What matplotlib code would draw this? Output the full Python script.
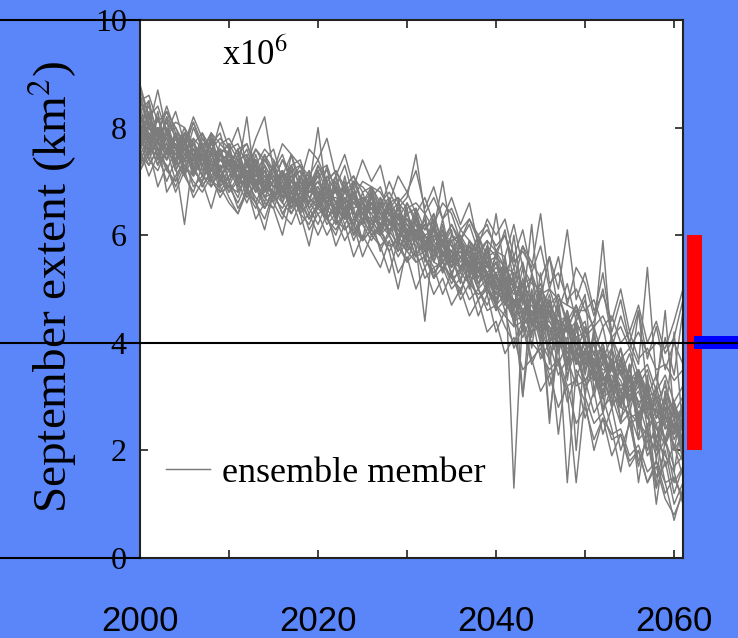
import numpy as np
import matplotlib
matplotlib.use('agg')
import matplotlib.pyplot as plt
from matplotlib.patches import Rectangle

plt.rcParams['mathtext.fontset'] = 'stix'

# September sea ice extent, 10^6 km^2, one list per ensemble member, 2000-2061
years = np.arange(2000, 2062)

m01 = [8.4,7.8,8.2,7.5,7.9,7.1,7.8,7.6,7.0,7.5, 7.7,7.0,7.4,6.8,7.5,7.2,6.6,7.3,6.9,7.2,
       6.5,7.1,6.8,6.3,7.0,6.6,6.1,6.7,6.4,5.9, 6.6,6.2,5.7,6.4,5.8,6.1,5.3,5.9,5.6,5.0,
       5.7,5.1,4.6,5.4,4.3,5.0,4.1,4.8,3.6,4.4, 3.4,4.2,3.0,3.9,2.8,3.6,2.5,3.3,2.2,3.0, 2.0,2.9]
m02 = [7.6,8.1,7.4,7.9,7.3,7.7,7.2,7.0,7.6,6.9, 7.1,7.5,6.8,7.3,6.7,6.8,7.2,6.5,7.0,6.6,
       7.2,6.4,6.9,6.5,6.2,6.8,6.3,6.0,6.6,6.1, 5.8,6.4,5.9,5.6,6.2,5.4,5.9,5.2,5.7,5.5,
       4.9,5.6,4.7,5.1,4.4,4.2,4.8,3.9,4.5,3.6, 4.1,3.3,3.8,3.0,3.6,2.7,3.4,2.4,3.1,2.1, 2.8,1.9]
m03 = [8.1,7.6,7.9,8.0,7.4,7.8,7.3,7.7,7.2,7.6, 7.0,7.4,7.5,6.9,7.2,6.7,7.1,7.2,6.6,6.8,
       7.0,6.6,6.5,7.0,6.3,6.7,6.6,6.2,6.5,6.0, 6.3,5.9,6.3,5.7,6.0,5.9,5.4,5.8,5.2,5.6,
       5.1,5.4,1.3,4.6,4.9,4.1,4.6,4.0,4.3,3.7, 4.0,3.4,3.9,3.1,3.5,2.9,3.3,2.6,3.0,2.4, 2.7,2.2]
m04 = [7.8,8.3,7.6,7.4,7.9,7.2,7.6,7.1,7.8,7.0, 7.5,6.9,7.3,7.3,6.8,7.3,6.7,7.1,7.2,6.5,
       6.7,7.0,6.4,6.8,6.9,6.2,6.7,6.5,6.0,6.6, 6.0,6.5,5.8,6.2,5.6,6.0,5.8,5.3,5.9,5.1,
       5.5,4.8,5.3,3.0,5.0,4.4,4.9,4.1,4.6,3.8, 4.3,3.5,4.0,3.2,3.7,2.9,3.5,2.7,3.2,2.5, 2.9,2.3]
m05 = [8.8,8.2,8.4,7.9,8.1,8.0,7.7,7.9,7.6,7.8, 7.6,7.7,7.3,7.6,7.4,7.2,7.5,7.0,7.3,7.1,
       7.4,7.0,7.2,6.9,7.1,6.8,6.9,6.6,6.8,6.5, 6.7,7.5,6.4,6.7,6.3,6.5,6.1,6.3,5.9,6.1,
       5.8,6.0,5.5,5.7,5.4,6.4,5.1,5.3,4.8,5.0, 4.6,4.8,4.3,4.5,4.0,4.2,3.7,3.9,3.5,3.6, 3.3,3.5]
m06 = [7.5,7.3,7.6,7.2,7.0,7.4,6.9,7.1,7.0,6.8, 6.9,6.6,7.0,6.7,6.5,6.8,6.6,6.4,6.7,6.3,
       6.5,6.3,6.1,6.4,6.2,5.9,6.1,6.0,5.7,5.0, 5.8,5.6,5.7,5.4,5.5,5.2,5.3,5.1,4.9,5.0,
       4.7,4.5,4.3,4.4,4.0,3.8,3.5,3.7,3.2,3.3, 2.9,2.0,2.6,2.3,2.4,1.9,2.1,1.6,1.8,1.4, 1.5,1.1]
m07 = [8.2,7.7,8.0,7.8,7.5,7.9,7.6,7.3,7.7,7.4, 7.2,7.6,7.1,7.4,6.9,7.3,6.9,7.1,6.8,7.2,
       6.8,6.9,6.6,6.6,6.7,6.4,6.8,6.3,6.5,6.2, 6.4,6.0,6.2,5.9,6.1,5.6,5.9,5.7,5.3,5.8,
       5.2,5.5,5.0,4.5,4.9,4.3,4.7,3.9,4.4,4.1, 3.7,4.0,3.4,3.7,3.1,3.5,2.8,3.2,2.6,3.0, 2.4,2.8]
m08 = [7.9,8.0,7.7,7.8,7.7,7.6,7.4,7.5,7.3,7.5, 7.4,7.1,7.3,7.0,7.2,6.9,7.1,6.8,7.0,6.8,
       7.0,6.7,6.8,6.6,6.7,6.5,6.6,6.4,6.5,6.3, 6.3,6.2,6.0,6.1,5.9,5.9,6.0,5.7,5.8,5.5,
       5.6,5.4,5.3,5.1,5.2,4.9,5.0,4.8,4.7,4.6, 4.6,4.3,4.5,4.1,4.3,3.9,4.2,3.8,4.0,3.9, 4.4,5.0]
m09 = [7.4,7.7,7.3,7.6,7.0,7.4,7.3,6.9,7.2,7.1, 6.8,7.1,6.9,6.6,7.0,6.7,6.5,6.8,6.4,5.8,
       6.6,6.3,6.5,6.1,6.3,6.2,5.9,6.2,6.0,5.7, 6.0,5.6,5.9,5.5,5.4,5.6,5.2,5.4,5.0,5.2,
       4.8,5.0,4.5,4.6,4.2,4.3,3.8,4.0,1.4,3.5, 3.2,3.4,2.8,3.0,2.5,2.7,2.2,2.4,1.9,2.2, 1.7,1.9]
m10 = [8.3,8.5,7.8,8.1,7.6,8.0,7.4,7.1,7.9,7.2, 7.6,7.2,8.2,6.9,7.4,7.1,6.7,7.5,6.8,6.6,
       7.3,6.9,6.3,7.1,6.4,6.2,6.9,6.0,6.6,6.7, 5.9,6.4,5.5,6.2,5.3,6.0,5.8,5.0,5.6,5.9,
       4.7,5.4,5.1,4.2,5.3,4.0,4.7,4.4,3.5,4.5, 4.9,3.1,3.9,2.8,3.7,3.3,2.4,3.2,2.0,2.9, 2.6,1.8]
m11 = [7.9,7.4,7.8,7.2,7.6,7.3,7.1,7.5,6.9,7.2, 7.0,6.7,7.2,6.9,6.5,6.8,6.7,6.9,6.4,6.6,
       6.4,6.5,6.2,6.4,6.0,6.3,6.0,6.1,5.8,5.9, 5.7,5.5,5.6,5.2,5.4,5.0,5.2,4.8,5.0,4.6,
       4.7,4.3,4.0,4.4,3.7,3.9,3.4,3.6,3.1,1.4, 3.0,2.5,2.7,2.2,2.3,1.8,2.0,1.4,1.7,1.1, 0.8,1.2]
m12 = [8.5,8.0,7.7,8.2,7.8,7.4,8.0,7.6,7.2,7.7, 7.5,7.4,6.9,7.5,7.0,6.8,7.2,6.6,7.1,6.9,
       7.1,6.6,7.0,6.3,6.8,6.4,6.7,6.1,6.6,5.9, 6.4,6.0,5.8,6.3,5.5,5.7,6.0,5.4,5.8,5.2,
       5.6,5.0,5.4,4.8,4.5,4.9,4.4,4.1,4.6,3.9, 3.5,4.1,3.8,3.2,3.7,3.0,3.4,2.8,1.3,3.1, 2.7,2.5]
m13 = [7.3,7.6,7.5,7.0,7.4,7.1,6.8,7.3,7.0,6.9, 6.6,6.4,6.8,6.5,6.9,6.6,6.3,6.8,6.4,6.2,
       6.6,6.3,6.0,6.5,6.1,5.9,6.3,5.7,6.1,5.8, 5.5,6.0,5.6,5.2,5.7,5.3,4.9,5.5,5.0,4.7,
       5.1,4.6,4.8,4.3,4.6,4.0,3.7,4.2,3.4,3.9, 3.1,3.6,2.7,3.2,2.6,2.9,1.4,2.5,1.0,2.2, 1.4,1.7]
m14 = [8.1,8.4,7.9,8.3,7.8,7.6,8.1,7.7,7.7,7.9, 7.3,7.6,7.7,7.2,7.4,7.6,7.0,7.3,7.4,6.9,
       7.2,7.3,6.8,6.9,7.1,6.6,6.9,6.8,6.5,6.7, 6.5,6.6,6.4,6.1,7.0,6.0,5.9,6.2,5.7,5.9,
       5.7,5.6,6.2,5.4,5.1,5.0,4.7,4.9,4.4,4.7, 4.2,4.4,5.0,4.1,3.7,3.9,3.4,3.6,3.1,3.4, 2.9,3.2]
m15 = [7.7,7.3,7.6,7.7,7.2,7.5,7.2,7.0,7.4,6.8, 7.1,7.2,6.7,7.0,6.5,6.9,7.0,6.5,6.8,6.4,
       6.7,6.3,6.6,6.2,6.5,6.6,6.0,6.2,6.3,5.7, 6.1,5.6,6.0,5.8,5.3,5.7,5.6,5.1,5.5,5.3,
       4.8,5.2,4.5,4.9,4.4,4.6,4.1,3.9,4.3,2.0, 3.9,3.4,3.0,3.6,2.9,3.2,2.6,2.9,2.4,2.1, 2.6,1.9]
m16 = [8.0,7.8,7.3,7.9,7.6,7.7,7.2,7.6,7.1,7.4, 7.3,7.0,7.2,6.8,7.2,6.7,7.1,6.8,6.5,7.0,
       6.8,6.4,6.9,6.6,6.2,6.6,6.4,6.1,6.5,6.2, 5.8,6.3,6.0,5.7,5.9,5.4,5.8,5.3,5.6,5.0,
       4.8,5.3,4.6,3.0,4.4,4.7,2.6,4.0,4.3,3.6, 4.0,3.5,3.1,3.6,2.8,3.3,2.9,2.3,2.8,2.1, 2.5,2.1]
m17 = [7.6,8.0,7.9,7.4,7.7,7.1,7.5,7.3,7.5,7.2, 6.9,7.3,7.0,7.2,6.7,7.0,6.6,7.0,6.9,6.5,
       6.8,6.8,6.4,6.7,6.4,6.4,6.2,6.5,6.0,6.4, 6.0,6.0,6.3,5.5,5.9,5.7,5.4,5.7,5.1,5.5,
       5.1,4.7,5.0,4.6,4.8,4.2,4.6,3.8,4.4,4.0, 3.6,4.0,3.3,3.6,3.1,3.3,4.6,3.1,2.6,2.8, 2.2,2.6]
m18 = [8.0,7.5,8.2,7.7,7.4,7.9,7.7,7.3,7.8,7.2, 7.4,7.0,7.4,7.4,6.9,7.3,6.7,7.2,6.6,7.1,
       6.5,7.0,6.6,6.3,6.9,6.4,6.1,6.7,6.2,6.5, 5.9,6.4,5.7,6.2,5.8,5.5,6.1,5.9,5.3,5.8,
       5.6,6.1,5.1,5.8,5.3,4.8,5.6,4.6,5.1,4.4, 4.8,4.2,5.9,3.9,4.5,4.0,3.6,5.4,3.3,4.1, 3.4,4.6]
m19 = [7.8,7.4,7.2,7.6,7.3,6.2,7.5,7.1,6.9,7.3, 6.8,7.0,6.6,7.0,6.7,6.5,6.9,6.4,6.8,6.5,
       6.2,6.6,6.3,6.1,6.3,5.9,6.1,5.8,6.0,5.6, 5.9,5.5,5.6,5.3,5.5,5.2,5.0,5.3,4.8,5.0,
       4.6,4.8,4.4,4.1,4.5,3.7,4.0,3.4,3.7,3.2, 3.3,2.7,3.0,2.4,1.6,2.6,1.8,2.2,1.3,1.8, 1.0,1.4]
m20 = [8.6,8.1,7.9,8.4,7.9,7.8,7.7,7.5,7.9,7.5, 7.7,7.4,7.1,7.6,7.3,7.0,7.4,7.0,7.2,6.9,
       7.2,6.8,7.1,6.6,7.0,6.6,6.8,6.5,6.7,6.3, 6.6,6.3,6.1,6.4,5.8,6.2,5.8,5.5,6.0,5.4,
       6.4,5.3,5.6,4.9,5.2,4.6,5.0,4.5,4.2,4.7, 4.0,3.8,4.3,3.5,3.9,3.3,3.5,3.0,3.4,2.7, 2.9,2.4]
m21 = [7.2,7.5,7.8,6.8,7.1,7.4,7.3,6.9,7.2,7.1, 6.9,6.8,7.1,6.6,6.1,6.8,6.4,6.7,6.6,6.3,
       6.6,6.2,6.4,6.4,5.9,6.3,6.0,6.1,5.7,6.0, 5.7,5.9,5.4,5.7,5.5,5.1,5.4,5.2,4.8,5.1,
       4.7,4.9,4.4,4.5,4.2,4.4,3.9,2.3,3.6,3.8, 3.3,3.5,3.0,3.1,2.8,2.7,2.5,2.3,2.2,1.9, 1.6,1.0]
m22 = [8.7,8.2,7.8,7.9,8.0,7.6,7.7,7.4,7.5,7.6, 7.2,7.4,7.2,7.0,7.3,7.0,7.2,6.9,7.0,6.8,
       7.0,6.8,6.6,6.9,6.6,6.7,6.5,6.3,6.6,6.3, 6.3,6.0,6.2,5.9,6.0,5.8,5.6,5.8,5.5,5.4,
       5.3,5.4,5.0,5.1,4.8,4.6,4.7,4.4,4.5,4.1, 4.2,3.8,3.9,3.6,3.7,3.3,3.4,3.0,3.1,4.6, 2.6,2.8]
m23 = [7.5,7.8,8.0,7.5,7.8,7.4,7.6,7.5,7.2,7.5, 7.3,7.0,7.4,7.1,7.0,7.3,6.9,7.0,6.8,7.1,
       6.7,6.9,6.6,6.8,6.6,6.4,6.7,6.4,6.4,6.1, 6.2,6.1,5.8,6.0,5.8,5.7,5.6,5.3,5.7,5.2,
       5.2,5.0,5.2,4.7,6.2,4.5,4.6,4.2,4.3,4.0, 3.8,3.7,3.5,3.5,3.2,3.3,2.9,3.0,2.7,2.8, 2.4,2.2]
m24 = [8.2,7.9,7.6,7.7,7.5,7.6,7.1,7.4,7.3,7.0, 7.2,7.1,6.9,7.2,6.9,7.1,6.8,6.8,6.9,6.7,
       6.5,6.7,6.5,6.6,6.2,6.5,6.2,6.3,6.1,6.1, 5.9,6.1,5.8,5.7,5.8,5.4,5.6,5.5,5.1,5.3,
       4.9,5.1,4.7,4.9,4.4,4.5,2.5,4.3,3.9,3.7, 3.8,3.4,3.6,3.2,3.1,2.9,3.1,2.6,2.4,2.5, 2.1,1.8]
m25 = [7.9,8.2,7.7,7.5,7.9,7.5,7.5,7.7,7.3,7.4, 7.5,7.2,7.1,7.3,7.1,6.9,7.2,6.8,7.1,6.8,
       6.9,6.6,6.9,6.5,6.8,6.5,6.4,6.6,6.2,6.5, 6.2,5.9,6.2,5.8,6.0,5.8,5.5,5.7,5.6,5.2,
       5.4,5.2,4.9,5.1,4.8,4.5,4.8,4.3,4.2,4.4, 4.0,3.8,3.6,3.9,3.4,3.1,3.5,2.8,3.0,2.6, 4.2,2.4]
m26 = [7.7,7.6,8.0,7.6,7.5,7.4,7.7,7.3,7.4,7.2, 7.0,7.4,7.0,7.2,7.0,6.7,7.0,6.8,6.5,6.9,
       6.6,6.8,6.5,6.3,6.7,6.3,6.5,6.2,6.3,6.0, 6.1,5.8,4.4,6.0,5.8,5.5,5.7,5.4,5.4,5.1,
       5.2,4.8,5.0,4.6,4.7,4.3,4.4,4.1,3.8,4.1, 3.6,3.7,3.3,3.4,3.0,3.2,2.7,2.9,2.5,2.6, 2.3,2.5]
m27 = [8.3,7.7,7.9,7.8,7.6,7.9,7.5,7.5,7.5,7.1, 7.3,7.3,6.9,7.1,7.2,6.9,6.9,7.1,6.8,6.9,
       8.0,6.7,6.7,6.5,6.6,6.4,6.3,6.5,6.1,6.3, 6.0,6.0,5.8,5.9,5.6,5.6,5.7,5.3,5.5,5.0,
       5.3,4.9,6.0,4.8,4.3,4.7,4.2,4.4,4.0,4.0, 3.6,3.8,3.2,3.5,3.3,2.9,3.2,2.6,2.9,2.4, 2.5,2.0]
m28 = [8.0,8.1,7.7,7.6,7.8,7.4,7.6,7.4,7.2,7.4, 7.3,7.2,7.1,6.9,7.2,6.9,6.8,7.0,6.7,6.8,
       6.8,6.6,6.5,6.7,6.4,6.4,6.5,6.2,6.2,6.2, 6.0,6.1,5.7,5.8,5.7,5.5,5.4,5.6,5.1,5.3,
       5.1,4.9,4.8,4.8,4.4,4.5,4.3,3.9,4.1,3.6, 3.7,3.3,3.4,2.8,3.1,2.5,2.6,1.9,2.2,1.4, 0.7,1.3]
m29 = [8.6,8.0,8.7,7.9,8.3,7.7,8.2,7.8,7.5,8.1, 7.6,8.0,7.3,7.8,8.2,7.2,7.7,7.5,7.0,7.6,
       7.4,7.8,7.1,7.5,6.9,7.4,7.0,7.3,6.6,7.1, 6.8,7.2,6.5,6.9,6.3,6.7,6.2,6.6,5.8,6.3,
       6.0,6.3,5.6,6.1,5.3,5.8,5.0,5.6,4.7,5.4, 5.1,4.5,5.3,4.2,4.8,4.0,4.6,3.7,4.3,3.5, 4.0,3.6]
m30 = [7.2,7.6,6.9,7.3,6.8,7.2,6.7,7.0,6.5,7.1, 6.7,6.4,6.9,6.3,6.6,6.5,6.0,6.7,6.2,6.4,
       6.0,6.4,5.8,6.2,5.6,6.0,5.7,5.4,5.9,5.3, 5.6,5.0,5.4,4.9,5.2,4.7,5.0,4.5,4.8,4.2,
       4.4,3.8,4.1,3.5,3.7,3.1,3.4,2.8,3.2,2.5, 2.8,2.2,2.6,1.9,2.3,1.7,2.0,1.4,1.8,1.2, 1.5,1.1]
m31 = [7.9,8.5,7.4,8.2,7.3,7.9,7.1,7.8,7.6,6.9, 7.6,6.8,7.5,7.0,6.6,7.4,6.8,7.3,6.4,7.1,
       6.6,7.3,6.2,6.9,6.5,5.9,6.8,6.1,6.7,5.8, 6.5,5.7,6.4,5.5,6.1,5.2,5.9,5.4,5.0,5.8,
       4.6,5.6,4.3,5.1,3.9,5.0,3.6,4.7,3.3,4.4, 3.0,4.3,2.7,3.9,2.5,3.6,2.2,3.4,1.8,3.1, 1.6,2.7]
m32 = [8.0,7.7,8.3,7.5,7.9,7.6,7.3,7.9,7.4,7.6, 7.5,7.3,7.6,7.1,7.5,7.0,7.4,7.2,7.3,6.8,
       7.1,7.2,6.9,7.3,6.7,7.0,6.9,6.5,7.0,6.6, 6.8,6.4,6.7,6.2,6.6,6.4,5.9,6.3,6.0,6.2,
       5.7,6.0,5.4,5.8,5.5,5.2,5.6,5.0,6.1,4.8, 5.3,4.6,4.9,4.4,5.0,4.2,4.7,4.0,4.4,3.8, 4.1,4.8]
m33 = [7.6,7.1,7.5,7.3,6.9,7.3,7.0,6.8,7.1,6.7, 7.0,6.5,6.8,6.6,6.3,6.8,6.4,6.2,6.6,6.1,
       6.4,6.0,6.3,5.9,6.2,5.6,6.0,5.8,5.3,5.9, 5.5,5.7,5.2,5.4,4.9,5.3,4.8,5.1,4.5,4.9,
       4.2,4.6,3.9,4.3,3.6,4.0,3.2,3.7,2.9,3.4, 2.6,3.1,2.3,2.8,2.0,2.5,1.7,2.3,1.5,2.0, 1.2,1.7]
m34 = [8.2,7.8,7.5,8.0,7.6,7.2,7.7,7.4,7.8,7.1, 7.3,7.6,7.0,7.4,6.8,7.2,6.9,6.6,7.1,6.7,
       6.9,6.5,7.1,6.4,6.8,6.2,6.6,6.4,6.0,6.5, 6.1,6.3,5.7,6.1,5.5,5.9,5.3,5.8,5.4,4.9,
       5.3,4.7,5.1,4.4,4.9,4.1,4.5,4.2,3.7,4.3, 3.5,4.0,3.2,3.7,2.9,3.6,2.6,3.3,2.8,2.2, 2.9,2.0]
m35 = [7.7,8.2,7.9,7.4,7.8,7.5,7.8,7.2,7.5,7.5, 7.0,7.3,7.1,6.8,7.3,6.6,7.2,6.9,6.7,7.0,
       6.7,6.6,6.9,6.3,6.6,6.7,6.1,6.6,6.2,6.1, 5.9,6.2,6.0,5.6,6.3,5.5,5.8,5.6,5.2,5.7,
       5.0,5.3,4.6,5.2,4.5,4.8,4.0,4.6,3.8,4.2, 4.4,3.6,4.0,3.2,3.9,2.9,3.5,3.1,2.6,3.3, 2.3,2.9]
m36 = [8.5,8.6,8.1,8.3,8.0,7.7,8.1,7.6,7.9,7.7, 7.8,7.5,7.7,7.3,7.6,7.4,7.1,7.5,7.3,6.9,
       7.3,7.0,7.2,6.8,7.0,6.9,6.7,6.9,6.4,6.6, 6.4,6.5,6.1,6.3,5.9,6.2,5.9,5.6,6.0,5.6,
       5.7,5.4,5.0,5.5,4.8,5.1,4.5,4.9,4.3,4.6, 4.1,4.3,3.7,4.1,3.4,3.8,3.2,3.5,2.9,3.2, 2.7,3.0]
m37 = [7.3,7.9,7.6,7.7,7.2,7.6,7.4,7.5,7.0,7.3, 7.2,6.9,7.3,6.9,7.1,6.7,6.9,6.5,7.0,6.7,
       6.5,6.8,6.3,6.7,6.4,6.3,6.6,6.0,6.4,6.2, 6.2,5.9,5.6,6.1,5.7,5.3,5.6,5.5,5.4,5.5,
       5.0,5.0,4.8,4.3,4.6,4.2,4.3,3.6,4.0,3.7, 3.3,3.6,3.4,2.9,3.0,2.6,2.7,2.0,2.5,1.7, 2.1,1.5]
m38 = [8.0,7.5,7.8,7.8,7.3,7.8,7.2,7.7,7.3,7.0, 7.4,7.0,6.9,7.4,6.8,7.0,7.1,6.7,6.9,6.6,
       6.8,6.3,6.6,6.9,6.0,6.4,6.3,6.0,6.2,6.4, 5.7,6.1,5.9,5.2,5.7,5.6,5.1,5.9,5.7,5.3,
       5.5,5.1,4.4,4.9,4.1,5.3,4.0,4.3,4.5,3.3, 3.9,3.0,3.7,3.3,2.8,3.4,2.4,3.0,2.2,2.7, 2.0,2.3]

members = [m01, m02, m03, m04, m05, m06, m07, m08, m09, m10, m11, m12, m13, m14,
           m15, m16, m17, m18, m19, m20, m21, m22, m23, m24, m25, m26, m27, m28,
           m29, m30, m31, m32, m33, m34, m35, m36, m37, m38]

# observed range (red bar) and observed value (blue bar / black line)
obs_low, obs_high = 2.0, 6.0
obs_value = 4.0

yticks = [0, 2, 4, 6, 8, 10]
xticks = [2000, 2020, 2040, 2060]
xminor = [2010, 2030, 2050]

bg = '#5b86fa'
gray = '#7c7c7c'

fig = plt.figure(figsize=(7.38, 6.38), dpi=100, facecolor=bg)
ax = fig.add_axes([140/738, 80/638, 543/738, 538/638])
ax.set_facecolor('white')

for k, m in enumerate(members):
    ax.plot(years, m, color=gray, lw=1.05, label='ensemble member' if k == 0 else None)

ax.set_xlim(2000, 2061)
ax.set_ylim(0, 10)

ax.set_yticks(yticks)
ax.set_yticklabels([str(v) for v in yticks], family='Liberation Serif', fontsize=23)
ax.set_xticks(xticks)
ax.set_xticks(xminor, minor=True)
ax.set_xticklabels([str(v) for v in xticks], family='Liberation Sans', fontsize=25)
ax.tick_params(axis='both', which='both', direction='in', top=True, right=True,
               length=6, width=1.2, color='#222222')
ax.tick_params(axis='y', pad=9.5)
ax.tick_params(axis='x', which='major', pad=34)
for s in ax.spines.values():
    s.set_color('#222222')
    s.set_linewidth(1.5)

# black guide lines reaching into the margin
ax.axhline(obs_value, -140/543, 598/543, color='k', lw=1.5, clip_on=False, zorder=6)
ax.axhline(0, -140/543, 0, color='k', lw=1.5, clip_on=False, zorder=6)
ax.axhline(10, -140/543, 0, color='k', lw=1.5, clip_on=False, zorder=6)

# red range bar and blue observation bar at the right
ax.add_patch(Rectangle((2061.5, obs_low), 1.6, obs_high - obs_low, color='#ff0000',
                       clip_on=False, zorder=4, lw=0))
ax.add_patch(Rectangle((2062.25, obs_value - 0.12), 6.0, 0.24, color='#0000ff',
                       clip_on=False, zorder=5, lw=0))

ax.text((222-140)/543, (558-65)/538, r'x10$^6$', transform=ax.transAxes,
        family='Liberation Serif', fontsize=25, ha='left', va='baseline')

ax.legend(loc='center left', bbox_to_anchor=(26/543, (558-473)/538), frameon=False,
          prop={'family': 'Liberation Serif', 'size': 26}, handlelength=1.22,
          handletextpad=0.33, borderpad=0, borderaxespad=0)

fig.text(67/738, 1 - 287/638, 'September extent (km$^2$)', rotation=90,
         family='Liberation Serif', fontsize=34, ha='center', va='baseline',
         rotation_mode='anchor')

plt.savefig('out.png', dpi=100, facecolor=bg)
